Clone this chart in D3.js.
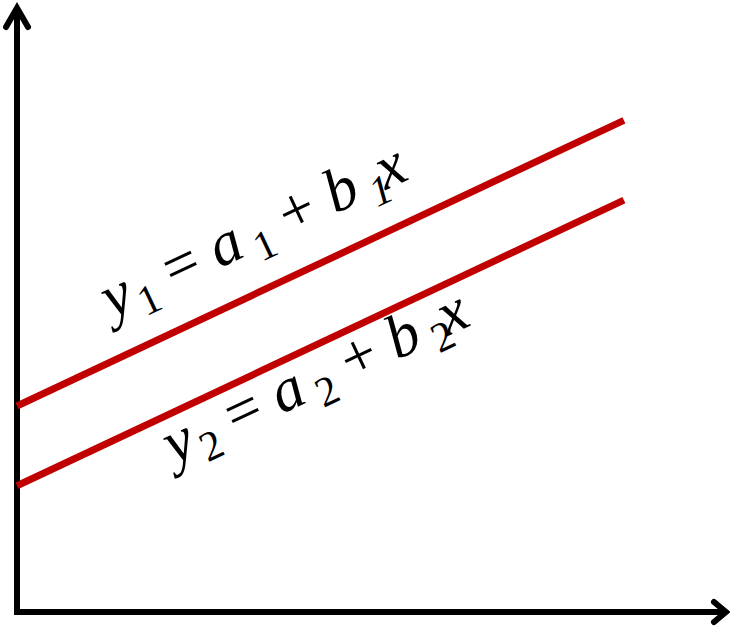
<!DOCTYPE html>
<html>
<head>
<meta charset="utf-8">
<script src="https://cdn.jsdelivr.net/npm/d3@7"></script>
<style>
    body { margin: 0; background: #fff; }
    #wrap { position: relative; width: 730px; height: 626px; }
    svg { display: block; }
    .eq {
        position: absolute;
        font-family: "Liberation Serif", serif;
        font-size: 62px;
        line-height: 1;
        white-space: pre;
        color: #000;
        transform-origin: 0 52px;
    }
    .eq span { position: relative; }
</style>
</head>
<body>
<div id="wrap"><svg id="chart" width="730" height="626"></svg></div>
<script>
// two parallel lines, values in data units (x 0..100, y 0..100)
const lineX = [0, 85.6];
const line1Y = [34.1, 81.4];
const line2Y = [20.9, 68.2];
const labels = [
    {sub: '1', at: 18.3, off: 38.2},
    {sub: '2', at: 22.5, off: -47.6}
];

const svg = d3.select('#chart');

const xScale = d3.scaleLinear().domain([0, 100]).range([17, 726]);
const yScale = d3.scaleLinear().domain([0, 100]).range([612, 8]);

// axes (no ticks, just arrows)
const axisG = svg.append('g')
    .attr('stroke', '#000')
    .attr('stroke-width', 6)
    .attr('fill', 'none');

axisG.append('line')
    .attr('x1', xScale(0)).attr('y1', yScale(0) + 3)
    .attr('x2', xScale(0)).attr('y2', yScale(100));
axisG.append('line')
    .attr('x1', xScale(0)).attr('y1', yScale(0))
    .attr('x2', xScale(100)).attr('y2', yScale(0));

axisG.append('path')
    .attr('stroke-linecap', 'round')
    .attr('d', d3.line()([[xScale(0) - 11, yScale(100) + 19], [xScale(0), yScale(100)], [xScale(0) + 11, yScale(100) + 19]]));
axisG.append('path')
    .attr('stroke-linecap', 'round')
    .attr('d', d3.line()([[xScale(100) - 12, yScale(0) - 10], [xScale(100), yScale(0)], [xScale(100) - 12, yScale(0) + 10]]));

// red lines
const lineGen = d3.line()
    .x(function (d) { return xScale(d[0]); })
    .y(function (d) { return yScale(d[1]); });

const series = [line1Y, line2Y];
series.forEach(function (ys) {
    svg.append('path')
        .attr('d', lineGen(lineX.map(function (x, i) { return [x, ys[i]]; })))
        .attr('stroke', '#c00000')
        .attr('stroke-width', 7)
        .attr('fill', 'none');
});

// labels along the lines (html so the serif font survives the rotation)
series.forEach(function (ys, k) {
    const lab = labels[k];
    const x0 = xScale(lineX[0]), y0 = yScale(ys[0]);
    const x1 = xScale(lineX[1]), y1 = yScale(ys[1]);
    const ang = Math.atan2(y1 - y0, x1 - x0);
    const t = lab.at / 100;
    const px = x0 + (x1 - x0) * t, py = y0 + (y1 - y0) * t;
    const nx = Math.sin(ang), ny = -Math.cos(ang);
    const tx = px + nx * lab.off, ty = py + ny * lab.off;

    const div = d3.select('#wrap').append('div')
        .attr('class', 'eq')
        .style('left', tx + 'px')
        .style('top', (ty - 52) + 'px')
        .style('transform', 'rotate(' + (ang * 180 / Math.PI) + 'deg)');

    const parts = [
        {t: 'y', it: true},
        {t: lab.sub, sub: true, dx: 4},
        {t: ' = '},
        {t: 'a', it: true},
        {t: lab.sub, sub: true, dx: 10},
        {t: ' + '},
        {t: 'b', it: true},
        {t: lab.sub, sub: true, dx: 10, it: lab.sub === '1'},
        {t: 'x', it: true, dx: -6}
    ];
    parts.forEach(function (p) {
        const sp = div.append('span').text(p.t);
        sp.style('font-style', p.it ? 'italic' : 'normal');
        if (p.sub) sp.style('font-size', '42px').style('top', '12px');
        if (p.dx) sp.style('margin-left', p.dx + 'px');
    });
});
</script>
</body>
</html>
